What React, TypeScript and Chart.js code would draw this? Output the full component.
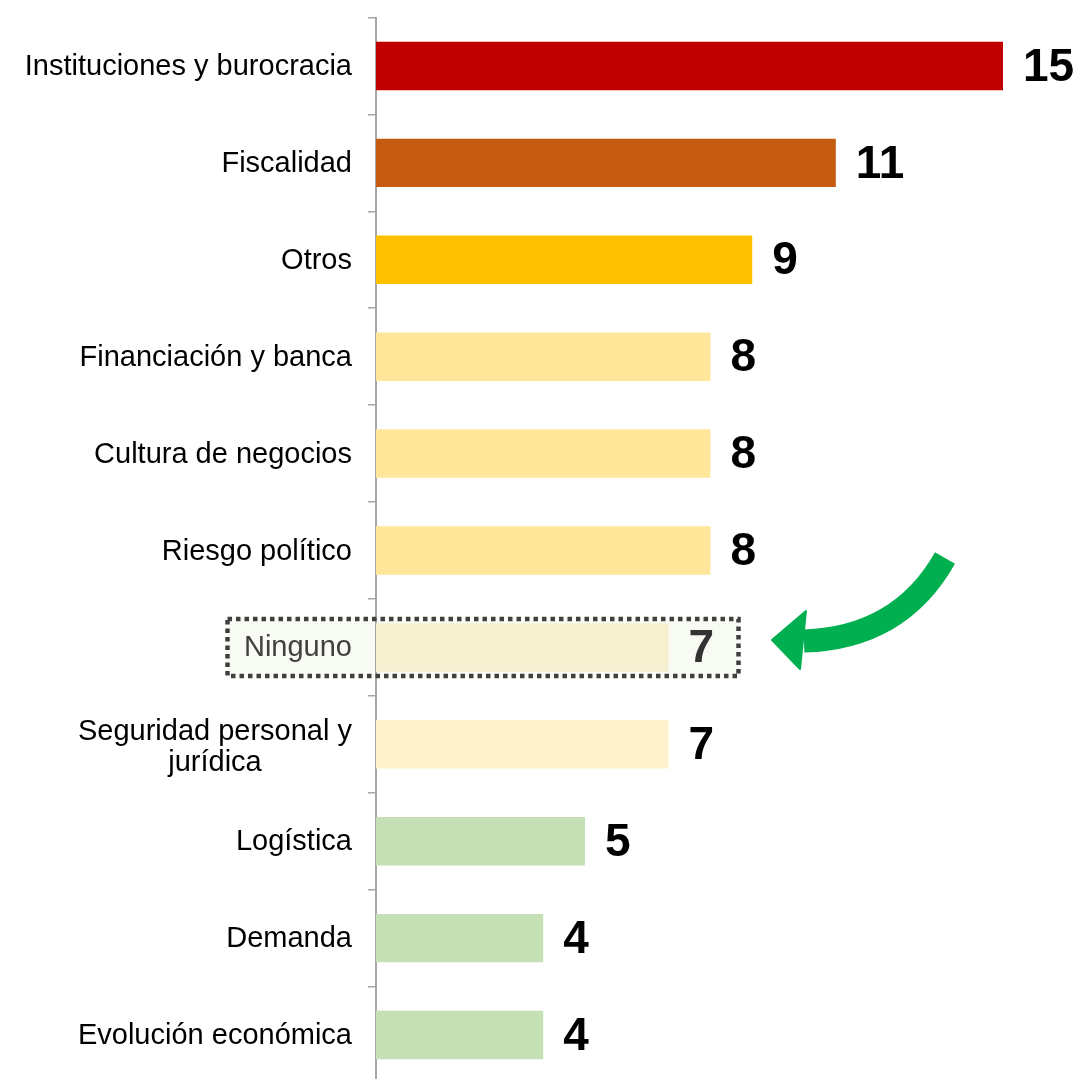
import React, { useEffect, useRef } from "react";
import { Chart, registerables } from "chart.js";

Chart.register(...registerables);

const categories: string[][] = [
  ["Instituciones y burocracia"],
  ["Fiscalidad"],
  ["Otros"],
  ["Financiación y banca"],
  ["Cultura de negocios"],
  ["Riesgo político"],
  ["Ninguno"],
  ["Seguridad personal y", "jurídica"],
  ["Logística"],
  ["Demanda"],
  ["Evolución económica"],
];
const values: number[] = [15, 11, 9, 8, 8, 8, 7, 7, 5, 4, 4];
const barColors: string[] = [
  "#C00000",
  "#C55A11",
  "#FFC000",
  "#FFE699",
  "#FFE699",
  "#FFE699",
  "#F7F0D0",
  "#FFF2CC",
  "#C5E0B4",
  "#C5E0B4",
  "#C5E0B4",
];
const highlightIndex = 6;

const FONT = "'Liberation Sans', Arial, Helvetica, sans-serif";

const overlayPlugin = {
  id: "overlay",
  beforeDraw(chart: any) {
    const ctx = chart.ctx;
    const y = chart.scales.y;
    const cy = y.getPixelForValue(highlightIndex);
    ctx.save();
    ctx.fillStyle = "#F8FAF4";
    ctx.fillRect(226, cy - 30, 514, 60);
    ctx.restore();
  },
  afterDatasetsDraw(chart: any) {
    const ctx = chart.ctx;
    const yScale = chart.scales.y;
    const meta = chart.getDatasetMeta(0);
    ctx.save();
    // value labels
    ctx.textBaseline = "middle";
    ctx.textAlign = "left";
    ctx.font = `bold 46px ${FONT}`;
    meta.data.forEach((bar: any, i: number) => {
      ctx.fillStyle = i === highlightIndex ? "#333333" : "#000000";
      ctx.fillText(String(values[i]), bar.x + 20, bar.y + 2);
    });
    // category labels
    ctx.font = `29px ${FONT}`;
    const right = 352;
    categories.forEach((lines, i) => {
      const cy = yScale.getPixelForValue(i);
      ctx.fillStyle = i === highlightIndex ? "#404040" : "#000000";
      if (lines.length === 1) {
        ctx.textAlign = "right";
        ctx.fillText(lines[0], right, cy + 1);
      } else {
        const maxW = Math.max(...lines.map((l) => ctx.measureText(l).width));
        const cx = right - maxW / 2;
        ctx.textAlign = "center";
        const lh = 31;
        lines.forEach((l, k) => {
          const yy = cy + (k - (lines.length - 1) / 2) * lh + 3;
          ctx.fillText(l, cx, yy);
        });
      }
    });
    // dotted highlight box
    const hy = yScale.getPixelForValue(highlightIndex);
    ctx.strokeStyle = "#404040";
    ctx.lineWidth = 4.5;
    ctx.setLineDash([4.5, 4]);
    ctx.strokeRect(227.5, hy - 28.5, 511, 57);
    ctx.setLineDash([]);
    // green curved arrow
    ctx.strokeStyle = "#00B050";
    ctx.fillStyle = "#00B050";
    ctx.lineWidth = 23;
    ctx.lineCap = "butt";
    ctx.beginPath();
    ctx.moveTo(945, 558);
    ctx.quadraticCurveTo(900, 638, 804, 641);
    ctx.stroke();
    ctx.beginPath();
    ctx.moveTo(772, 640);
    ctx.lineTo(806, 611);
    ctx.lineTo(800, 669);
    ctx.closePath();
    ctx.lineJoin = "round";
    ctx.lineWidth = 2;
    ctx.stroke();
    ctx.fill();
    ctx.restore();
  },
};

export default function App() {
  const ref = useRef<HTMLCanvasElement | null>(null);
  useEffect(() => {
    if (!ref.current) return;
    const chart = new Chart(ref.current, {
      type: "bar",
      data: {
        labels: categories.map((c) => c.join(" ")),
        datasets: [
          {
            data: values,
            backgroundColor: barColors,
            borderWidth: 0,
            barPercentage: 0.5,
            categoryPercentage: 1,
          },
        ],
      },
      options: {
        indexAxis: "y",
        animation: false,
        responsive: false,
        maintainAspectRatio: false,
        layout: { padding: { top: 17.5, bottom: 6.5, left: 0, right: 34.2 } },
        plugins: {
          legend: { display: false },
          tooltip: { enabled: false },
        },
        scales: {
          x: { display: false, min: 0, max: 16 },
          y: {
            afterFit(scale: any) {
              scale.width = 376;
              scale.paddingTop = 0;
              scale.paddingBottom = 0;
            },
            ticks: { display: false },
            grid: {
              display: true,
              drawOnChartArea: false,
              drawTicks: true,
              tickLength: 8,
              color: "#A6A6A6",
              lineWidth: 1.5,
              offset: true,
            },
            border: { display: true, color: "#A6A6A6", width: 2 },
          },
        },
      },
      plugins: [overlayPlugin],
    } as any);
    return () => chart.destroy();
  }, []);
  return (
    <div
      style={{
        position: "fixed",
        top: 0,
        left: 0,
        width: 1079,
        height: 1079,
        overflow: "hidden",
        background: "#ffffff",
      }}
    >
      <canvas
        ref={ref}
        width={1079}
        height={1090}
        style={{ display: "block", width: 1079, height: 1090 }}
      />
    </div>
  );
}
